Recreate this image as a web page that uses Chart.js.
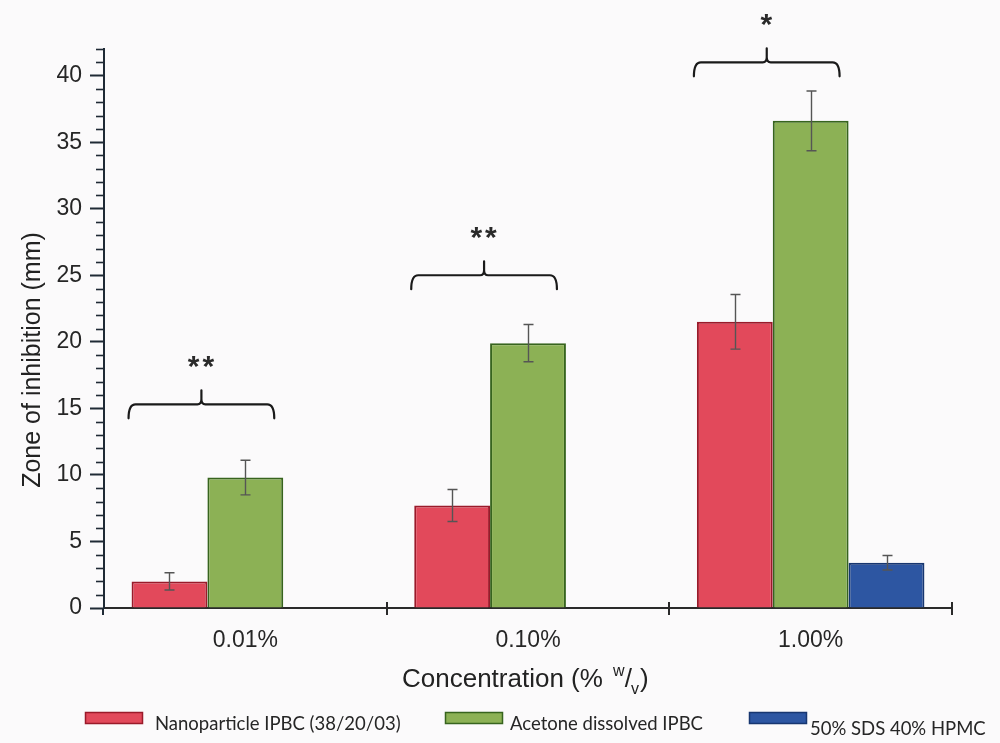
<!DOCTYPE html>
<html>
<head>
<meta charset="utf-8">
<script src="https://cdn.jsdelivr.net/npm/chart.js@4/dist/chart.umd.min.js"></script>
<style>
  html, body { margin: 0; padding: 0; background: #fcfbfc; }
  #wrap { width: 1000px; height: 743px; position: relative; }
</style>
</head>
<body>
<div id="wrap"><canvas id="chart"></canvas></div>
<script>
// Zone of inhibition (mm) by IPBC concentration
const concentrations = ['0.01%', '0.10%', '1.00%'];
const seriesNames = ['Nanoparticle IPBC (38/20/03)', 'Acetone dissolved IPBC', '50% SDS 40% HPMC'];
const nanoparticleZone = [2.0, 7.7, 21.5];
const nanoparticleSd = [0.65, 1.2, 2.05];
const acetoneZone = [9.8, 19.9, 36.6];
const acetoneSd = [1.3, 1.4, 2.25];
const controlZone = [null, null, 3.4];
const controlSd = [null, null, 0.55];
const yMajorStep = 5;
const yMax = 42;
const significance = ['**', '**', '*'];
const bracketLevels = [15.3, 25.0, 41.0];

const FONT = "'Liberation Sans', Arial, sans-serif";
const AXIS = '#1f2a35';

const backdrop = {
  id: 'backdrop',
  beforeDraw(chart) {
    const c = chart.ctx;
    c.save();
    c.fillStyle = '#fbfafb';
    c.fillRect(0, 0, chart.width, chart.height);
    c.restore();
  }
};

// Minor y ticks, category tick marks on the x axis, axis overhang
const axisExtras = {
  id: 'axisExtras',
  afterDraw(chart) {
    const c = chart.ctx;
    const xs = chart.scales.x, ys = chart.scales.y;
    c.save();
    c.strokeStyle = AXIS;
    c.lineWidth = 1.6;
    for (let v = 0; v <= yMax; v++) {
      if (v % yMajorStep === 0) continue;
      const y = Math.round(ys.getPixelForValue(v)) + 0.5;
      c.beginPath();
      c.moveTo(ys.right - 8, y);
      c.lineTo(ys.right, y);
      c.stroke();
    }
    c.lineWidth = 2;
    c.beginPath();
    c.moveTo(ys.right - 1, ys.bottom);
    c.lineTo(ys.right - 1, ys.bottom + 7);
    c.stroke();
    const n = concentrations.length;
    c.strokeStyle = '#2a2a2a';
    for (let i = 1; i <= n; i++) {
      const x = Math.round(xs.left + (xs.right - xs.left) * i / n);
      c.beginPath();
      c.moveTo(x, xs.top - 6);
      c.lineTo(x, xs.top + 7);
      c.stroke();
    }
    c.restore();
  }
};

// Standard deviation whiskers
const errorBars = {
  id: 'errorBars',
  afterDatasetsDraw(chart) {
    const c = chart.ctx;
    const ys = chart.scales.y;
    const sds = [nanoparticleSd, acetoneSd, controlSd];
    c.save();
    c.strokeStyle = '#555555';
    c.lineWidth = 1.4;
    chart.data.datasets.forEach((ds, di) => {
      const meta = chart.getDatasetMeta(di);
      meta.data.forEach((el, i) => {
        const v = ds.data[i], e = sds[di][i];
        if (v == null || e == null) return;
        const x = Math.round(el.x) + 0.5;
        const yt = ys.getPixelForValue(v + e);
        const yb = ys.getPixelForValue(v - e);
        c.beginPath();
        c.moveTo(x, yt); c.lineTo(x, yb);
        c.moveTo(x - 5, yt); c.lineTo(x + 5, yt);
        c.moveTo(x - 5, yb); c.lineTo(x + 5, yb);
        c.stroke();
      });
    });
    c.restore();
  }
};

// Significance braces between the two IPBC formulations
const braces = {
  id: 'braces',
  afterDraw(chart) {
    const c = chart.ctx;
    const ys = chart.scales.y;
    const red = chart.getDatasetMeta(0).data;
    const green = chart.getDatasetMeta(1).data;
    c.save();
    c.strokeStyle = '#1a1a1a';
    c.lineWidth = 2.2;
    c.lineCap = 'round';
    bracketLevels.forEach((lvl, i) => {
      const left = red[i].x - red[i].width / 2 - 3;
      const right = green[i].x + green[i].width / 2 - 9;
      const mid = (left + right) / 2;
      const y = ys.getPixelForValue(lvl);
      c.beginPath();
      c.moveTo(left, y + 14);
      c.quadraticCurveTo(left, y, left + 7, y);
      c.lineTo(mid - 4, y);
      c.quadraticCurveTo(mid, y, mid, y - 5);
      c.lineTo(mid, y - 14);
      c.moveTo(mid, y - 5);
      c.quadraticCurveTo(mid, y, mid + 4, y);
      c.lineTo(right - 7, y);
      c.quadraticCurveTo(right, y, right, y + 14);
      c.stroke();
      c.fillStyle = '#2a2a2a';
      c.font = `bold 30px ${FONT}`;
      c.textAlign = 'center';
      c.textBaseline = 'alphabetic';
      if ('letterSpacing' in c) c.letterSpacing = '3px';
      c.fillText(significance[i], mid + 1, y - 46 + 18);
      if ('letterSpacing' in c) c.letterSpacing = '0px';
    });
    c.restore();
  }
};

// Axis titles and the legend row
const labelsAndKey = {
  id: 'labelsAndKey',
  afterDraw(chart) {
    const c = chart.ctx;
    c.save();
    // y title
    c.fillStyle = '#222222';
    c.font = `25px ${FONT}`;
    c.textAlign = 'center';
    c.textBaseline = 'middle';
    c.translate(33, 360);
    c.rotate(-Math.PI / 2);
    c.fillText('Zone of inhibition (mm)', 0, 0);
    c.setTransform(1, 0, 0, 1, 0, 0);
    // x title with w/v fraction
    c.textAlign = 'left';
    c.textBaseline = 'alphabetic';
    let x = 402;
    const base = 687;
    c.font = `26px ${FONT}`;
    const a = 'Concentration (% ';
    c.fillText(a, x, base); x += c.measureText(a).width + 3;
    c.font = `16px ${FONT}`;
    c.fillText('w', x, base - 11); x += c.measureText('w').width;
    c.font = `26px ${FONT}`;
    c.fillText('/', x, base); x += c.measureText('/').width - 1;
    c.font = `16px ${FONT}`;
    c.fillText('v', x, base + 7); x += c.measureText('v').width + 1;
    c.font = `26px ${FONT}`;
    c.fillText(')', x, base);
    // legend
    const boxX = [85, 445, 749];
    const textX = [155, 510, 810];
    const baseY = [730, 730, 735];
    c.font = "18.5px Lato, 'Open Sans', sans-serif";
    chart.data.datasets.forEach((ds, i) => {
      c.fillStyle = ds.backgroundColor;
      c.fillRect(boxX[i], 712, 58, 12);
      c.strokeStyle = ds.borderColor;
      c.lineWidth = 1.5;
      c.strokeRect(boxX[i] + 0.5, 712.5, 57, 11);
      c.fillStyle = '#262626';
      c.fillText(ds.label, textX[i], baseY[i]);
    });
    c.restore();
  }
};

new Chart(document.getElementById('chart'), {
  type: 'bar',
  data: {
    labels: concentrations,
    datasets: [
      { label: seriesNames[0], data: nanoparticleZone, backgroundColor: '#e2495b', borderColor: '#9a1a2a', borderWidth: 2 },
      { label: seriesNames[1], data: acetoneZone, backgroundColor: '#8cb155', borderColor: '#37641e', borderWidth: 2 },
      { label: seriesNames[2], data: controlZone, backgroundColor: '#2d56a2', borderColor: '#173670', borderWidth: 2 }
    ]
  },
  options: {
    responsive: true,
    maintainAspectRatio: false,
    animation: false,
    categoryPercentage: 0.805,
    barPercentage: 1.0,
    layout: { padding: { top: 49, right: 48, left: 0, bottom: 0 } },
    plugins: { legend: { display: false }, tooltip: { enabled: false }, title: { display: false } },
    scales: {
      x: {
        type: 'category',
        offset: true,
        grid: { display: false, offset: true },
        border: { display: true, color: '#2a2a2a', width: 2 },
        ticks: { font: { family: FONT, size: 23 }, color: '#262626', padding: 11 },
        afterFit(s) { s.height = 135; }
      },
      y: {
        min: 0,
        max: yMax,
        ticks: {
          stepSize: 1,
          autoSkip: false,
          maxTicksLimit: 100,
          padding: 8,
          font: { family: FONT, size: 23 },
          color: '#262626',
          callback: (v) => (Number.isInteger(v) && v % yMajorStep === 0) ? String(v) : ''
        },
        grid: {
          drawOnChartArea: false,
          drawTicks: true,
          tickLength: 14,
          tickWidth: 2,
          tickColor: (ctx) => (ctx.tick && ctx.tick.value % yMajorStep === 0) ? AXIS : 'rgba(0,0,0,0)'
        },
        border: { display: true, color: AXIS, width: 2 },
        afterFit(s) { s.width = 104; }
      }
    }
  },
  plugins: [backdrop, errorBars, axisExtras, braces, labelsAndKey]
});
</script>
</body>
</html>
